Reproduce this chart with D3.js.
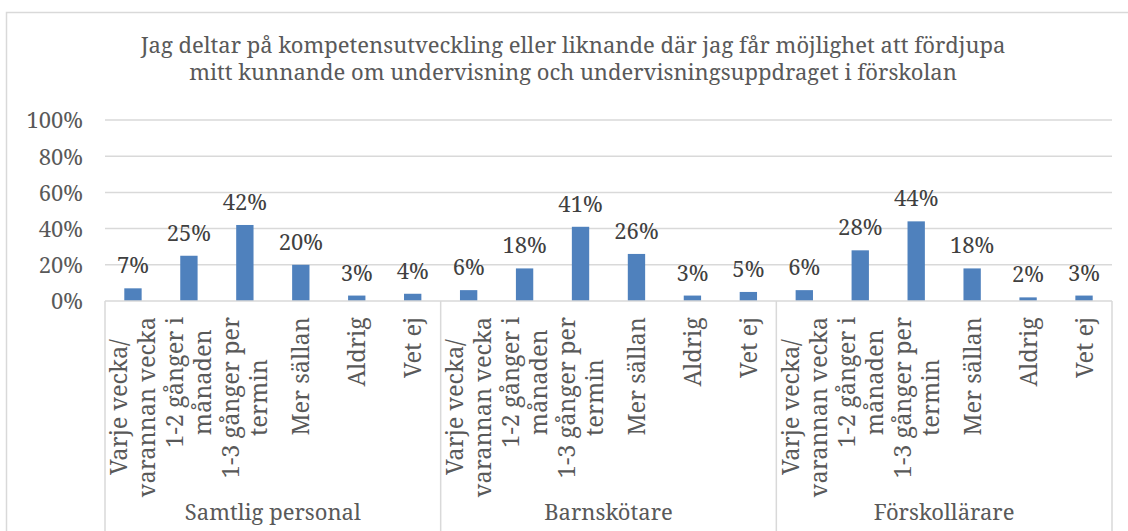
<!DOCTYPE html>
<html>
<head>
<meta charset="utf-8">
<script src="https://cdn.jsdelivr.net/npm/d3@7"></script>
<style>
  html, body { margin: 0; padding: 0; background: #fff; }
  svg { display: block; }
</style>
</head>
<body>
<div id="chart"></div>
<script>
const titleLines = [
  'Jag deltar på kompetensutveckling eller liknande där jag får möjlighet att fördjupa',
  'mitt kunnande om undervisning och undervisningsuppdraget i förskolan'
];
const groups = ['Samtlig personal', 'Barnskötare', 'Förskollärare'];
const answers = [
  ['Varje vecka/', 'varannan vecka'],
  ['1-2 gånger i', 'månaden'],
  ['1-3 gånger per', 'termin'],
  ['Mer sällan'],
  ['Aldrig'],
  ['Vet ej']
];
const samtligValues = [7, 25, 42, 20, 3, 4];
const barnskotareValues = [6, 18, 41, 26, 3, 5];
const forskollarareValues = [6, 28, 44, 18, 2, 3];
const yTicks = [0, 20, 40, 60, 80, 100];

const width = 1128, height = 531;
const margin = { left: 105, right: 16, top: 120, plotBottom: 301 };
const FONT = '"Noto Serif", "Liberation Serif", serif';
const textColor = '#595959';
const lineColor = '#d9d9d9';
const barColor = '#4f81bd';

const groupValues = [samtligValues, barnskotareValues, forskollarareValues];
const rows = [];
groups.forEach((g, gi) => {
  answers.forEach((a, ai) => {
    rows.push({ key: gi + '-' + ai, group: gi, lines: a, value: groupValues[gi][ai] });
  });
});

const svg = d3.select('#chart').append('svg')
  .attr('width', width)
  .attr('height', height);

// chart frame
svg.append('rect')
  .attr('x', 6.5).attr('y', 12.5)
  .attr('width', width + 20).attr('height', height + 20)
  .attr('fill', 'none')
  .attr('stroke', lineColor)
  .attr('stroke-width', 1.5);

// title
svg.append('g').selectAll('text')
  .data(titleLines)
  .join('text')
  .attr('x', 573)
  .attr('y', (d, i) => 53 + i * 27)
  .attr('text-anchor', 'middle')
  .style('font-family', FONT)
  .style('font-size', '22px')
  .attr('fill', textColor)
  .text(d => d);

const x = d3.scaleBand()
  .domain(rows.map(r => r.key))
  .range([margin.left, width - margin.right]);

const y = d3.scaleLinear()
  .domain([0, 100])
  .range([margin.plotBottom, margin.top]);

// gridlines
svg.append('g').selectAll('line')
  .data(yTicks.filter(t => t > 0))
  .join('line')
  .attr('x1', margin.left).attr('x2', width - margin.right)
  .attr('y1', d => y(d)).attr('y2', d => y(d))
  .attr('stroke', lineColor)
  .attr('stroke-width', 1.5);

// y axis labels
const yAxis = svg.append('g')
  .attr('transform', `translate(${margin.left},0)`)
  .call(d3.axisLeft(y).tickValues(yTicks).tickFormat(d => d + '%').tickSize(0).tickPadding(22));
yAxis.select('.domain').remove();
yAxis.selectAll('text')
  .style('font-family', FONT)
  .style('font-size', '22px')
  .attr('fill', textColor)
  .attr('dy', '0.36em');

// bars
const barW = x.bandwidth() * 0.31;
svg.append('g').selectAll('rect')
  .data(rows)
  .join('rect')
  .attr('x', d => x(d.key) + (x.bandwidth() - barW) / 2)
  .attr('y', d => y(d.value))
  .attr('width', barW)
  .attr('height', d => y(0) - y(d.value))
  .attr('fill', barColor);

// data labels
svg.append('g').selectAll('text')
  .data(rows)
  .join('text')
  .attr('x', d => x(d.key) + x.bandwidth() / 2)
  .attr('y', d => y(d.value) - 15)
  .attr('text-anchor', 'middle')
  .style('font-family', FONT)
  .style('font-size', '22px')
  .attr('fill', '#404040')
  .text(d => d.value + '%');

// category axis: baseline and group separators
svg.append('line')
  .attr('x1', margin.left).attr('x2', width - margin.right)
  .attr('y1', y(0)).attr('y2', y(0))
  .attr('stroke', lineColor).attr('stroke-width', 1.5);

const groupEdges = groups.map((g, gi) => x(gi + '-0')).concat([width - margin.right]);
svg.append('g').selectAll('line')
  .data(groupEdges)
  .join('line')
  .attr('x1', d => d).attr('x2', d => d)
  .attr('y1', y(0)).attr('y2', height)
  .attr('stroke', lineColor).attr('stroke-width', 1.5);

// rotated answer labels
const pitch = 28;
const labelTop = 317;
const catLabels = svg.append('g').selectAll('g')
  .data(rows)
  .join('g')
  .attr('transform', d => `translate(${x(d.key) + x.bandwidth() / 2},${labelTop}) rotate(-90)`);

catLabels.each(function (d) {
  const g = d3.select(this);
  const n = d.lines.length;
  const texts = g.selectAll('text')
    .data(d.lines)
    .join('text')
    .attr('y', (t, i) => (i - (n - 1) / 2) * pitch + 8.5)
    .style('font-family', FONT)
    .style('font-size', '23.5px')
    .attr('fill', textColor)
    .text(t => t);
  let maxLen = 0;
  texts.each(function () { maxLen = Math.max(maxLen, this.getComputedTextLength()); });
  texts.attr('x', -maxLen / 2).attr('text-anchor', 'middle');
});

// group labels
svg.append('g').selectAll('text')
  .data(groups)
  .join('text')
  .attr('x', (g, gi) => (groupEdges[gi] + groupEdges[gi + 1]) / 2)
  .attr('y', 520)
  .attr('text-anchor', 'middle')
  .style('font-family', FONT)
  .style('font-size', '22px')
  .attr('fill', textColor)
  .text(g => g);
</script>
</body>
</html>
